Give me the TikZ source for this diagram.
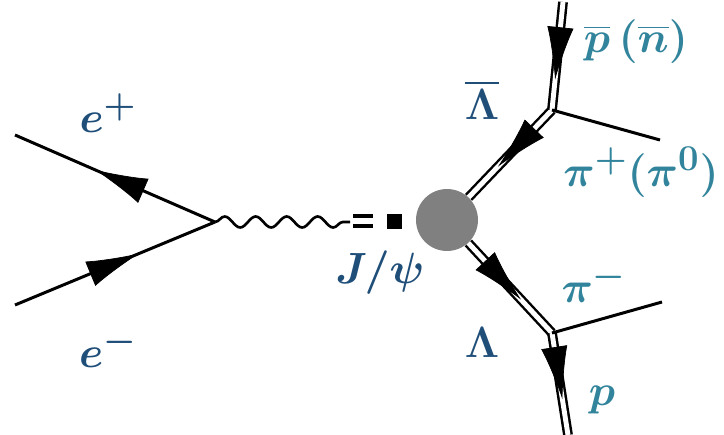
\documentclass[tikz,border=0pt]{standalone}
\usepackage{amsmath}
\usepackage{tikz}
\usetikzlibrary{arrows.meta, decorations.pathmorphing, decorations.markings}
\definecolor{JPNavy}{RGB}{31,78,121}
\definecolor{JPTeal}{RGB}{49,132,155}
\definecolor{JPGray}{RGB}{128,128,128}

\begin{document}
\begin{tikzpicture}[x=0.02cm, y=-0.02cm,
          fermion/.style={draw=black, line width=1.7pt},
          baryon/.style={draw=black, line width=1.4pt, double=white, double distance=2.8pt},
          boson/.style={draw=black, line width=1.5pt, decorate,
                        decoration={snake, amplitude=0.11cm, segment length=0.62cm, post length=2pt}},
          fmark/.style={decoration={markings, mark=at position #1 with
                        {\arrow{Latex[length=30pt, width=15pt]}}}, postaction={decorate}},
          lbl/.style={font=\fontsize{29}{33}\selectfont\boldmath, inner sep=0pt},
          ini/.style={lbl, text=JPNavy},
          fin/.style={lbl, text=JPTeal}
        ]
        \useasboundingbox (0,0) rectangle (724,435);

        % vertices and free ends
        \coordinate (ep)  at (15,135);
        \coordinate (em)  at (15,305);
        \coordinate (vee) at (215,222);
        \coordinate (wend) at (350,222);
        \coordinate (vlb) at (552,110);
        \coordinate (vl)  at (552,333);
        \coordinate (pbar) at (563,2);
        \coordinate (pout) at (568,435);
        \coordinate (pip) at (660,140);
        \coordinate (pim) at (662,302);
        \node[circle, fill=JPGray, minimum size=1.24cm, inner sep=0pt] (blob) at (447,220) {};

        % e+ e- -> J/psi
        \draw[fermion] (vee) -- (ep);
        \path[fmark=0.6] (vee) -- (ep);
        \draw[fermion] (em) -- (vee);
        \path[fmark=0.62] (em) -- (vee);
        \draw[boson] (vee) -- (wend);
        \fill[black] (353,214) rectangle (373,218);
        \fill[black] (353,224) rectangle (373,228);
        \fill[black] (387,214) rectangle (402,229);

        % Lambda-bar branch
        \draw[baryon] (vlb) -- (blob);
        \path[fmark=0.65] (vlb) -- (blob);
        \draw[baryon] (pbar) -- (vlb);
        \path[fmark=0.72] (pbar) -- (vlb);
        \draw[fermion] (vlb) -- (pip);

        % Lambda branch
        \draw[baryon] (blob) -- (vl);
        \path[fmark=0.63] (blob) -- (vl);
        \draw[baryon] (vl) -- (pout);
        \path[fmark=0.65] (vl) -- (pout);
        \draw[fermion] (vl) -- (pim);

        \node[ini] (lep)  at (108,113) {$e^{+}$};
        \node[ini] (lem)  at (108,348) {$e^{-}$};
        \node[ini] (ljp)  at (380,273) {$J/\psi$};
        \node[ini] (llb)  at (482,100) {$\overline{\Lambda}$};
        \node[ini] (ll)   at (482,343) {$\Lambda$};
        \node[fin] (lpb)  at (636,42)  {$\overline{p}\,(\overline{n})$};
        \node[fin] (lpip) at (641,172) {$\pi^{+}(\pi^{0})$};
        \node[fin] (lpim) at (594,283) {$\pi^{-}$};
        \node[fin] (lp)   at (602,400) {$p$};
      \end{tikzpicture}
\end{document}
